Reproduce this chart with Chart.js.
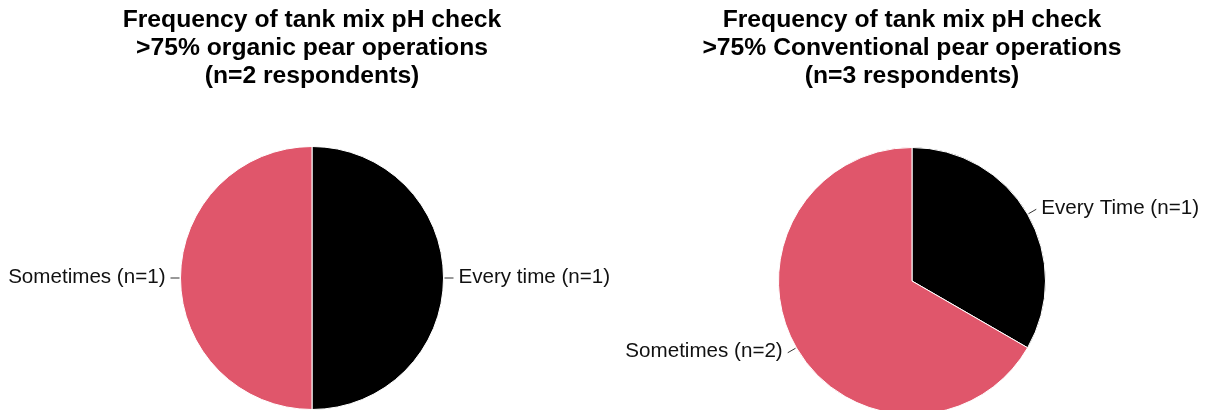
<!DOCTYPE html>
<html>
<head>
<meta charset="utf-8">
<script src="https://cdn.jsdelivr.net/npm/chart.js@4"></script>
<style>
  html, body { margin: 0; padding: 0; background: #fff; overflow: hidden; width: 1209px; height: 410px; }
  .pane { position: absolute; top: 0; }
  #left { left: 0; width: 624px; height: 410px; }
  #right { left: 600px; width: 624px; height: 415px; }
</style>
</head>
<body>
<div class="pane" id="left"><canvas id="organic"></canvas></div>
<div class="pane" id="right"><canvas id="conventional"></canvas></div>
<script>
// respuestas por grupo
const organicLabels = ['Every time (n=1)', 'Sometimes (n=1)'];
const organicValues = [1, 1];
const conventionalLabels = ['Every Time (n=1)', 'Sometimes (n=2)'];
const conventionalValues = [1, 2];

const organicTitle = ['Frequency of tank mix pH check', '>75% organic pear operations', '(n=2 respondents)'];
const conventionalTitle = ['Frequency of tank mix pH check', '>75% Conventional pear operations', '(n=3 respondents)'];

const sliceColors = ['#000000', '#E0566B'];

// etiquetas afuera con linea guia
const outsideLabels = {
  id: 'outsideLabels',
  afterDatasetsDraw(chart) {
    const ctx = chart.ctx;
    const meta = chart.getDatasetMeta(0);
    ctx.save();
    ctx.font = '20.6px "Liberation Sans", Arial, sans-serif';
    ctx.fillStyle = '#111';
    ctx.strokeStyle = '#333';
    ctx.lineWidth = 1;
    ctx.textBaseline = 'middle';
    meta.data.forEach((arc, i) => {
      const mid = (arc.startAngle + arc.endAngle) / 2;
      const c = Math.cos(mid), s = Math.sin(mid);
      const r = arc.outerRadius;
      const x1 = arc.x + c * (r + 1), y1 = arc.y + s * (r + 1);
      const x2 = arc.x + c * (r + 10), y2 = arc.y + s * (r + 10);
      ctx.beginPath();
      ctx.moveTo(x1, y1);
      ctx.lineTo(x2, y2);
      ctx.stroke();
      const right = c >= 0;
      ctx.textAlign = right ? 'left' : 'right';
      ctx.fillText(chart.data.labels[i], x2 + (right ? 5 : -5), y2 - 1);
    });
    ctx.restore();
  }
};

const makePie = (id, labels, values, title, padBottom) => {
  new Chart(document.getElementById(id), {
    type: 'pie',
    data: {
      labels: labels,
      datasets: [{
        data: values,
        backgroundColor: sliceColors,
        borderColor: '#ffffff',
        borderWidth: 1,
        hoverOffset: 0
      }]
    },
    options: {
      responsive: true,
      maintainAspectRatio: false,
      animation: false,
      plugins: {
        legend: { display: false },
        tooltip: { enabled: false },
        title: {
          display: true,
          text: title,
          color: '#000',
          font: { family: '"Liberation Sans", Arial, sans-serif', size: 24.7, weight: 'bold', lineHeight: 28 / 24.7 },
          padding: { top: 6, bottom: padBottom }
        }
      }
    },
    plugins: [outsideLabels]
  });
};

makePie('organic', organicLabels, organicValues, organicTitle, 56);
makePie('conventional', conventionalLabels, conventionalValues, conventionalTitle, 57);
</script>
</body>
</html>
